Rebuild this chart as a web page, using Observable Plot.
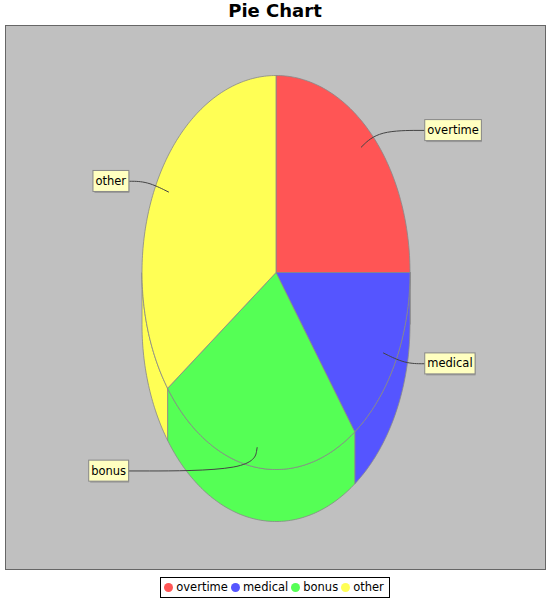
<!DOCTYPE html>
<html>
<head>
<meta charset="utf-8">
<script src="https://cdn.jsdelivr.net/npm/d3@7"></script>
<script src="https://cdn.jsdelivr.net/npm/@observablehq/plot@0.6"></script>
<style>
  body { margin: 0; background: #fff; font-family: "DejaVu Sans", sans-serif; }
  #title { width: 550px; height: 25px; line-height: 26px; text-align: center; font: bold 18px "DejaVu Sans", sans-serif; }
  #chart svg { display: block; }
  #legend { width: 550px; text-align: center; margin-top: 3px; }
  #legend .box { display: inline-block; border: 1px solid #000; padding: 2px 2px 3px 3px; font: 11.5px "DejaVu Sans", sans-serif; }
  #legend .item { margin-right: 3px; }
  #legend .dot { display: inline-block; width: 9px; height: 9px; border-radius: 50%; margin-right: 3px; vertical-align: -0.5px; }
</style>
</head>
<body>
<div id="title">Pie Chart</div>
<div id="chart"></div>
<div id="legend"></div>
<script>
const labels = ["overtime", "medical", "bonus", "other"]
const values = [25, 15, 25, 35]
const colors = ["#FF5555", "#5555FF", "#55FF55", "#FFFF55"]

const depth = 0.264          // thickness of the 3D pie, in radius units
const step = Math.PI / 180

// d3.pie angles run clockwise from 12 o'clock, like the reference
const arcs = d3.pie().sort(null)(values)

function arcPts(a0, a1, r = 1, dy = 0) {
  const n = Math.max(1, Math.ceil(Math.abs(a1 - a0) / step))
  return d3.range(n + 1).map(i => {
    const a = a0 + (a1 - a0) * i / n
    return [r * Math.sin(a), r * Math.cos(a) + dy]
  })
}

const tops = arcs.flatMap((d, i) => {
  const pts = [[0, 0], ...arcPts(d.startAngle, d.endAngle), [0, 0]]
  return pts.map(([x, y]) => ({label: labels[i], x, y}))
})

// only the front half (3 o'clock -> 9 o'clock) shows its side
const sides = arcs.flatMap((d, i) => {
  const s = Math.max(d.startAngle, Math.PI / 2)
  const e = Math.min(d.endAngle, 3 * Math.PI / 2)
  if (s >= e) return []
  const pts = [...arcPts(s, e), ...arcPts(e, s, 1, -depth)]
  pts.push(pts[0])
  return pts.map(([x, y]) => ({label: labels[i], x, y}))
})

const tags = arcs.map((d, i) => {
  const m = (d.startAngle + d.endAngle) / 2
  const sx = Math.sin(m), cy = Math.cos(m)
  const right = sx >= 0
  return {label: labels[i], right, ax: 0.9 * sx, ay: 0.9 * cy, ex: 1.08 * sx, ly: 1.02 * cy, lx: right ? 1.11 : -1.1}
})
const links = tags.flatMap(t =>
  [[t.ax, t.ay], [t.ex, t.ly], [t.lx, t.ly]].map(([x, y]) => ({label: t.label, x, y})))

const chart = Plot.plot({
  width: 550,
  height: 548,
  marginLeft: 5,
  marginRight: 5,
  marginTop: 0,
  marginBottom: 4,
  x: {domain: [-1, 1], range: [141.5, 409.5], axis: null},
  y: {domain: [-1, 1], range: [444, 50], axis: null},
  color: {domain: labels, range: colors},
  style: {fontFamily: "DejaVu Sans, sans-serif", fontSize: "11.5px", background: "#fff"},
  marks: [
    Plot.frame({fill: "#C0C0C0", stroke: "#666"}),
    Plot.line(sides, {x: "x", y: "y", z: "label", fill: "label", stroke: "#888", strokeWidth: 0.8}),
    Plot.line(tops, {x: "x", y: "y", z: "label", fill: "label", stroke: "#888", strokeWidth: 0.8}),
    Plot.line(links, {x: "x", y: "y", z: "label", curve: "basis", stroke: "#444", strokeWidth: 1}),
    Plot.text(tags.filter(d => d.right), {x: "lx", y: "ly", text: "label", textAnchor: "start", dx: 2.5, fill: "#000", className: "tag"}),
    Plot.text(tags.filter(d => !d.right), {x: "lx", y: "ly", text: "label", textAnchor: "end", dx: -2.5, fill: "#000", className: "tag"})
  ]
})

d3.select("#chart").append(() => chart)

// label boxes behind each slice label (same transform as the text)
d3.selectAll("#chart g.tag text").each(function () {
  const b = this.getBBox()
  const g = this.parentNode
  const t = this.getAttribute("transform")
  const shadow = document.createElementNS("http://www.w3.org/2000/svg", "rect")
  const box = document.createElementNS("http://www.w3.org/2000/svg", "rect")
  d3.select(shadow).attr("transform", t).attr("x", b.x - 1).attr("y", b.y - 2).attr("width", b.width + 4).attr("height", b.height + 7).attr("fill", "#999")
  d3.select(box).attr("transform", t).attr("x", b.x - 2.5).attr("y", b.y - 3.5).attr("width", b.width + 5).attr("height", b.height + 7).attr("fill", "#FFFFC0").attr("stroke", "#888")
  g.insertBefore(shadow, this)
  g.insertBefore(box, this)
})

const box = d3.select("#legend").append("span").attr("class", "box")
labels.forEach((l, i) => {
  const it = box.append("span").attr("class", "item")
  it.append("span").attr("class", "dot").style("background", colors[i])
  it.append("span").text(l)
})
</script>
</body>
</html>
